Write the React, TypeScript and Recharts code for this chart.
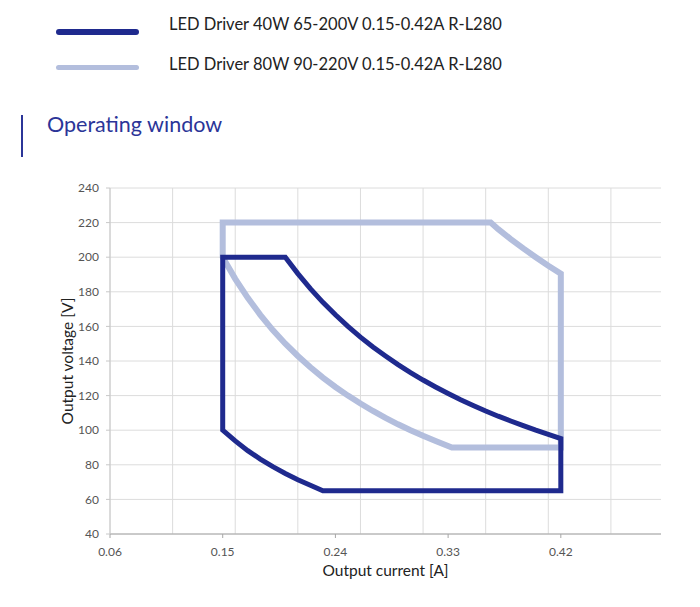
import React from "react";
import {
  LineChart,
  Line,
  XAxis,
  YAxis,
  CartesianGrid,
  Label,
} from "recharts";

// 40W driver window: current [A] / voltage [V], traced clockwise
const driver40Current = [
  0.15, 0.15, 0.2, 0.21, 0.22, 0.23, 0.24, 0.25, 0.26, 0.27, 0.28, 0.29, 0.3, 0.31, 0.32, 0.33, 0.34, 0.35, 0.36, 0.37, 0.38, 0.39, 0.4, 0.41, 0.42,
  0.42, 0.23, 0.22, 0.21, 0.2, 0.19, 0.18, 0.17, 0.16, 0.15, 0.15,
];
const driver40Voltage = [
  150, 200, 200, 190.5, 181.8, 173.9, 166.7, 160, 153.8, 148.1, 142.9, 137.9, 133.3, 129, 125, 121.2, 117.6, 114.3, 111.1, 108.1, 105.3, 102.6, 100, 97.6, 95.2,
  65, 65, 68.2, 71.4, 75, 78.9, 83.3, 88.2, 93.8, 100, 150,
];

// 80W driver window
const driver80Current = [
  0.15, 0.15, 0.364, 0.37, 0.38, 0.39, 0.4, 0.41, 0.42, 0.42, 0.333,
  0.32, 0.31, 0.3, 0.29, 0.28, 0.27, 0.26, 0.25, 0.24, 0.23, 0.22, 0.21, 0.2, 0.19, 0.18, 0.17, 0.16, 0.15, 0.15,
];
const driver80Voltage = [
  210, 220, 220, 216.2, 210.5, 205.1, 200, 195.1, 190.5, 90, 90,
  93.8, 96.8, 100, 103.4, 107.1, 111.1, 115.4, 120, 125, 130.4, 136.4, 142.9, 150, 157.9, 166.7, 176.5, 187.5, 200, 210,
];

const seriesNames = [
  "LED Driver 40W 65-200V 0.15-0.42A R-L280",
  "LED Driver 80W 90-220V 0.15-0.42A R-L280",
];

const xTicks = [0.06, 0.15, 0.24, 0.33, 0.42];
const xGridValues = [0.06, 0.11, 0.16, 0.21, 0.26, 0.31, 0.36, 0.41, 0.46];
const yTicks = [40, 60, 80, 100, 120, 140, 160, 180, 200, 220, 240];

const DARK = "#1f2a8e";
const LIGHT = "#b3bedd";
const FONT = "Lato, 'Open Sans', sans-serif";

const toPoints = (xs: number[], ys: number[]) => xs.map((i, k) => ({ i, v: ys[k] }));

const data40 = toPoints(driver40Current, driver40Voltage);
const data80 = toPoints(driver80Current, driver80Voltage);

function LegendRow({ color, width, lineTop, top, label }: { color: string; width: number; lineTop: number; top: number; label: string }) {
  return (
    <>
      <div
        style={{
          position: "absolute",
          left: 56,
          top: lineTop - width / 2,
          width: 83,
          height: width,
          borderRadius: width / 2,
          background: color,
        }}
      />
      <div
        style={{
          position: "absolute",
          left: 169,
          top,
          fontSize: 16.5,
          lineHeight: "20px",
          color: "#222",
          fontFamily: FONT,
          whiteSpace: "nowrap",
        }}
      >
        {label}
      </div>
    </>
  );
}

export default function App() {
  return (
    <div style={{ position: "absolute", left: 0, top: 0, width: 700, height: 607, background: "#fff" }}>
      <LegendRow color={DARK} width={6} lineTop={32} top={14} label={seriesNames[0]} />
      <LegendRow color={LIGHT} width={5} lineTop={67} top={54} label={seriesNames[1]} />

      <div style={{ position: "absolute", left: 21, top: 115, width: 2, height: 42, background: "#2b3598" }} />
      <div
        style={{
          position: "absolute",
          left: 47,
          top: 111,
          fontSize: 21.5,
          color: "#2b3598",
          fontFamily: FONT,
          whiteSpace: "nowrap",
        }}
      >
        Operating window
      </div>

      <div style={{ position: "absolute", left: 0, top: 0 }}>
        <LineChart width={700} height={607} margin={{ top: 188, right: 39, bottom: 43, left: 60 }}>
          <CartesianGrid stroke="#dcdcdc" strokeWidth={1} verticalValues={xGridValues} />
          <XAxis
            dataKey="i"
            type="number"
            domain={[0.06, 0.5]}
            ticks={xTicks}
            allowDataOverflow
            height={30}
            stroke="#a6a6a6"
            tickSize={4}
            tickMargin={9}
            tick={{ fontSize: 12, fill: "#555", fontFamily: FONT }}
            tickFormatter={(t: number) => t.toFixed(2)}
          >
            <Label
              value="Output current [A]"
              position="insideBottom"
              offset={-12}
              style={{ fontSize: 15.5, fill: "#222", fontFamily: FONT }}
            />
          </XAxis>
          <YAxis
            type="number"
            domain={[40, 240]}
            ticks={yTicks}
            width={50}
            stroke="#c8c8c8"
            tickSize={4}
            tickMargin={7}
            tick={{ fontSize: 12, fill: "#555", fontFamily: FONT }}
          >
            <Label
              value="Output voltage [V]"
              angle={-90}
              position="insideLeft"
              offset={7}
              style={{ textAnchor: "middle", fontSize: 15.5, fill: "#222", fontFamily: FONT }}
            />
          </YAxis>
          <Line
            data={data80}
            dataKey="v"
            type="linear"
            stroke={LIGHT}
            strokeWidth={6}
            dot={false}
            activeDot={false}
            isAnimationActive={false}
            name={seriesNames[1]}
          />
          <Line
            data={data40}
            dataKey="v"
            type="linear"
            stroke={DARK}
            strokeWidth={5}
            dot={false}
            activeDot={false}
            isAnimationActive={false}
            name={seriesNames[0]}
          />
        </LineChart>
      </div>
    </div>
  );
}
